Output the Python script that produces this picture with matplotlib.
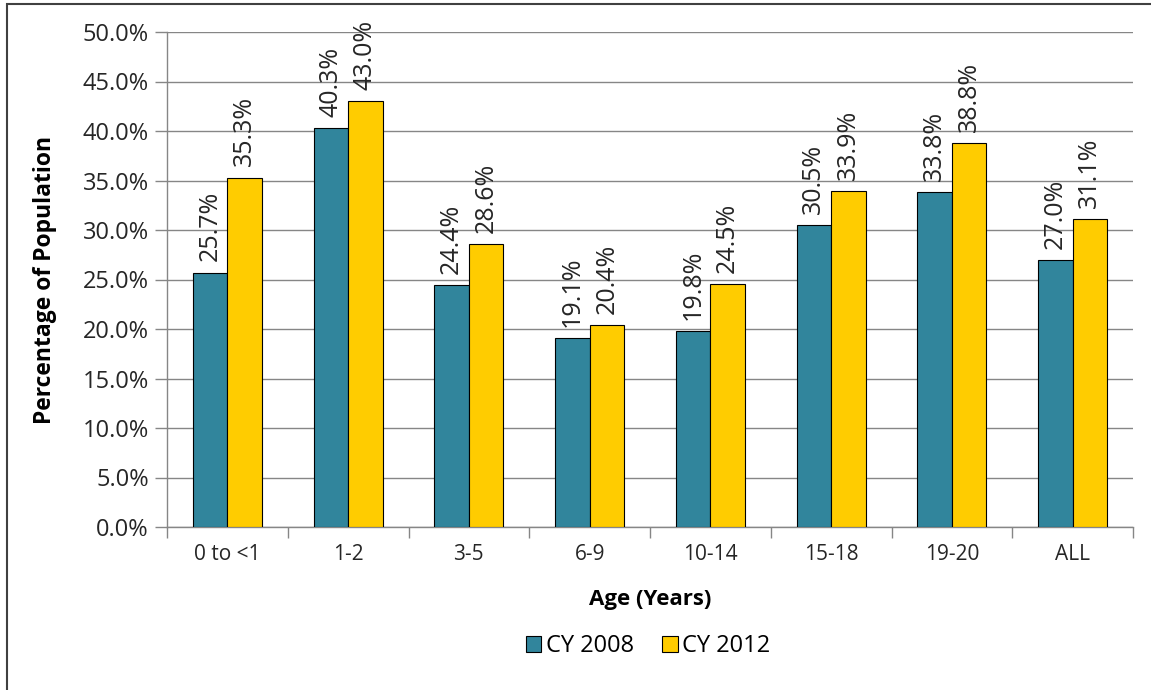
import numpy as np
import matplotlib.pyplot as plt
from matplotlib.patches import Rectangle
from matplotlib.ticker import FuncFormatter

# Age groups and percentage of population per calendar year
age_groups = ["0 to <1", "1-2", "3-5", "6-9", "10-14", "15-18", "19-20", "ALL"]
cy2008 = [25.7, 40.3, 24.4, 19.1, 19.8, 30.5, 33.8, 27.0]
cy2012 = [35.3, 43.0, 28.6, 20.4, 24.5, 33.9, 38.8, 31.1]
series_names = ["CY 2008", "CY 2012"]

plt.rcParams['font.family'] = ['Open Sans', 'DejaVu Sans']

W, H = 1151, 690
fig = plt.figure(figsize=(W / 100, H / 100), dpi=100)
ax_l, ax_r, ax_t, ax_b = 167, 1133, 32, 527
ax = fig.add_axes([ax_l / W, 1 - ax_b / H, (ax_r - ax_l) / W, (ax_b - ax_t) / H])

# outer frame of the chart area
fig.patches.append(Rectangle((7 / W, -0.1), 1.2, 1 - 4 / H + 0.1,
                             transform=fig.transFigure, fill=False,
                             edgecolor='#404040', linewidth=1.5))

x = np.arange(len(age_groups))
w = 0.286
gray = '#868686'
txt = '#262626'

b1 = ax.bar(x - w / 2, cy2008, w, color='#31859C', edgecolor='black',
            linewidth=0.8, label=series_names[0], zorder=3)
b2 = ax.bar(x + w / 2, cy2012, w, color='#FFCC00', edgecolor='black',
            linewidth=0.8, label=series_names[1], zorder=3)

for bars, vals in ((b1, cy2008), (b2, cy2012)):
    for rect, v in zip(bars, vals):
        ax.annotate(f"{v:.1f}%", (rect.get_x() + rect.get_width() / 2, v),
                    xytext=(0, 8), textcoords='offset points',
                    rotation=90, ha='center', va='bottom',
                    fontsize=18, color=txt)

ax.set_xlim(-0.5, len(age_groups) - 0.5)
ax.set_ylim(0, 50)
ax.set_yticks(np.arange(0, 50.1, 5))
ax.yaxis.set_major_formatter(FuncFormatter(lambda v, p: f"{v:.1f}%"))
ax.grid(axis='y', color=gray, linewidth=1, zorder=0)

# category labels centred, tick marks between categories
ax.set_xticks(np.arange(-0.5, len(age_groups), 1.0))
ax.set_xticklabels([])
ax.set_xticks(x, minor=True)
ax.set_xticklabels(age_groups, minor=True)
ax.tick_params(axis='x', which='minor', length=0, pad=12, labelsize=15, labelcolor=txt)
ax.tick_params(axis='x', which='major', length=8, color=gray, width=1)
ax.tick_params(axis='y', length=9, color=gray, width=1, labelsize=17,
               labelcolor=txt, pad=4)

for s in ('top', 'right'):
    ax.spines[s].set_visible(False)
for s in ('left', 'bottom'):
    ax.spines[s].set_color(gray)
    ax.spines[s].set_linewidth(1)

ax_w, ax_h = ax_r - ax_l, ax_b - ax_t
ax.set_ylabel("Percentage of Population", fontsize=16.5, fontweight='bold',
              color='black', va='center')
ax.yaxis.set_label_coords((45 - ax_l) / ax_w, 0.5)
ax.set_xlabel("Age (Years)", fontsize=16, fontweight='bold', color='black', va='center')
ax.xaxis.set_label_coords(0.5, -(600 - ax_b) / ax_h)

ax.legend(loc='center', bbox_to_anchor=(648 / W, 1 - 646 / H),
          bbox_transform=fig.transFigure, ncol=2, frameon=False,
          fontsize=17, handlelength=0.65, handleheight=0.65, columnspacing=1.2,
          handletextpad=0.2)

fig.savefig("out.png", dpi=100)
